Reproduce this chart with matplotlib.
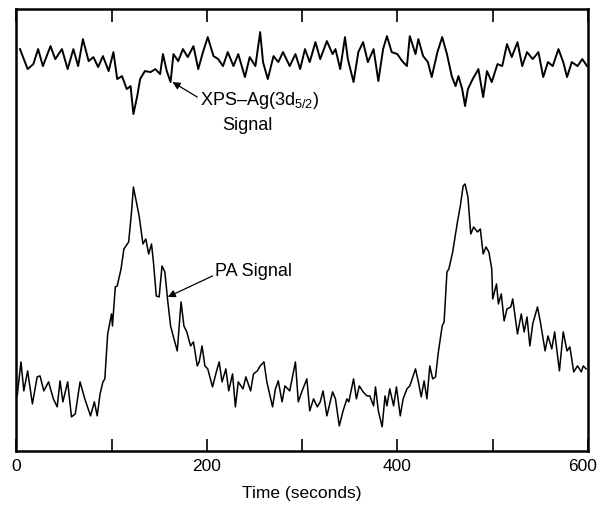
import matplotlib
matplotlib.use("Agg")
import matplotlib.pyplot as plt

plt.rcParams["font.family"] = ["Liberation Sans", "DejaVu Sans"]
plt.rcParams["mathtext.fontset"] = "custom"
plt.rcParams["mathtext.rm"] = "Liberation Sans"
plt.rcParams["mathtext.it"] = "Liberation Sans"

# XPS-Ag(3d5/2) signal (arbitrary units)
xps_time = [4, 12, 18, 23, 28, 36, 41, 48, 54, 60, 65, 70, 76, 81, 86, 91, 97, 102,
            106, 111, 116, 120, 123, 127, 130, 135, 141, 146, 151, 154, 158, 162,
            165, 170, 175, 180, 186, 191, 196, 201, 207, 212, 217, 222, 228, 233,
            240, 245, 251, 256, 259, 264, 270, 275, 280, 287, 293, 298, 303, 308,
            314, 319, 326, 332, 335, 340, 345, 348, 354, 359, 364, 369, 375, 380,
            385, 389, 394, 400, 405, 410, 413, 419, 422, 427, 432, 436, 442, 447,
            452, 457, 461, 464, 468, 471, 474, 479, 485, 490, 494, 499, 505, 510,
            515, 520, 526, 531, 536, 542, 548, 553, 558, 563, 569, 574, 578, 583,
            589, 594, 599]
xps_signal = [402, 382, 387, 402, 385, 405, 392, 402, 382, 402, 385, 412, 390, 394,
              384, 395, 380, 399, 372, 375, 362, 365, 337, 355, 372, 380, 379, 382,
              377, 397, 380, 369, 397, 390, 402, 394, 405, 382, 399, 414, 395, 392,
              385, 399, 385, 397, 374, 394, 385, 419, 389, 372, 395, 389, 399, 385,
              397, 382, 402, 389, 409, 392, 410, 397, 402, 382, 414, 392, 369, 399,
              409, 389, 402, 370, 402, 415, 399, 397, 390, 385, 415, 397, 412, 395,
              389, 374, 399, 414, 397, 375, 365, 375, 362, 345, 362, 372, 382, 354,
              380, 369, 387, 385, 407, 394, 409, 385, 399, 392, 399, 374, 389, 385,
              402, 389, 374, 389, 385, 392, 385]

# photoacoustic (PA) signal (arbitrary units)
pa_time = [1, 5, 8, 12, 17, 22, 25, 29, 34, 39, 43, 46, 49, 54, 58, 62, 67, 72, 78,
           82, 85, 88, 91, 93, 96, 100, 101, 104, 106, 110, 113, 118, 121, 123, 127,
           129, 133, 136, 139, 142, 144, 147, 150, 153, 156, 159, 162, 165, 169,
           173, 176, 179, 183, 186, 190, 192, 195, 198, 201, 206, 210, 213, 216,
           220, 223, 227, 230, 233, 238, 241, 246, 249, 253, 256, 260, 263, 269,
           272, 275, 279, 282, 287, 293, 296, 300, 305, 308, 312, 316, 319, 322,
           326, 332, 335, 339, 343, 347, 349, 354, 357, 360, 364, 368, 371, 375,
           377, 380, 384, 387, 389, 392, 396, 399, 403, 406, 410, 413, 419, 422,
           425, 428, 431, 434, 437, 440, 443, 447, 449, 452, 454, 458, 463, 466,
           469, 471, 474, 477, 480, 484, 487, 490, 493, 496, 499, 500, 504, 506,
           509, 512, 515, 519, 521, 526, 530, 533, 536, 539, 542, 547, 550, 555,
           558, 562, 565, 570, 574, 578, 581, 585, 589, 593, 595, 598]
pa_signal = [55, 89, 60, 80, 47, 74, 75, 60, 69, 52, 44, 70, 49, 69, 34, 37, 69, 52,
             35, 49, 35, 57, 69, 72, 117, 137, 125, 164, 165, 182, 202, 209, 239,
             264, 245, 235, 207, 212, 197, 207, 189, 155, 154, 185, 179, 150, 125,
             114, 100, 149, 125, 119, 105, 109, 85, 89, 105, 85, 82, 64, 79, 89, 69,
             82, 60, 77, 44, 69, 62, 74, 60, 77, 80, 85, 89, 69, 44, 62, 70, 49, 65,
             60, 89, 49, 60, 72, 40, 52, 44, 49, 60, 35, 59, 52, 25, 40, 52, 49, 72,
             52, 65, 59, 55, 55, 45, 64, 40, 24, 55, 45, 62, 45, 64, 35, 52, 62, 65,
             82, 69, 54, 70, 52, 85, 72, 74, 99, 125, 129, 179, 182, 199, 229, 245,
             265, 267, 254, 217, 224, 219, 222, 197, 204, 199, 182, 152, 167, 147,
             157, 130, 142, 144, 152, 117, 137, 119, 134, 105, 127, 144, 129, 100,
             115, 102, 119, 80, 119, 100, 104, 79, 85, 79, 85, 82]

time_ticks = [0, 200, 400, 600]
minor_ticks = [100, 300, 500]

fig = plt.figure(figsize=(6.0, 5.06), dpi=100)
ax = fig.add_axes([0.027, 0.107, 0.953, 0.873])

ax.plot(xps_time, xps_signal, color="black", lw=1.4)
ax.plot(pa_time, pa_signal, color="black", lw=1.1)

ax.set_xlim(0, 600)
ax.set_ylim(0, 442)
ax.set_yticks([])
# the last label ("600") is drawn by hand a little to the left so it fits
ax.set_xticks(time_ticks, [str(t) for t in time_ticks[:-1]] + [""])
ax.set_xticks(minor_ticks, minor=True)
ax.tick_params(axis="x", which="both", direction="in", top=True, length=9,
               width=1.2, pad=5, labelsize=12.5)
for sp in ax.spines.values():
    sp.set_linewidth(1.8)
ax.annotate(str(time_ticks[-1]), xy=(time_ticks[-1], 0),
            xycoords=("data", "axes fraction"),
            xytext=(-4, -5), textcoords="offset points",
            ha="center", va="top", fontsize=12.5)

ax.set_xlabel("Time (seconds)", fontsize=12.5, labelpad=9)

arrow = dict(arrowstyle="-|>", color="black", lw=0.9, mutation_scale=11,
             shrinkA=0, shrinkB=0)
ax.annotate("", xy=(164, 369), xytext=(190, 354), arrowprops=arrow)
ax.text(193, 352, "XPS\u2013Ag(3d$_{5/2}$)", fontsize=13, va="center", ha="left")
ax.text(216, 327, "Signal", fontsize=13, va="center", ha="left")

ax.annotate("", xy=(159, 154), xytext=(206, 175), arrowprops=arrow)
ax.text(209, 180, "PA Signal", fontsize=13, va="center", ha="left")

fig.savefig("out.png", dpi=100)
